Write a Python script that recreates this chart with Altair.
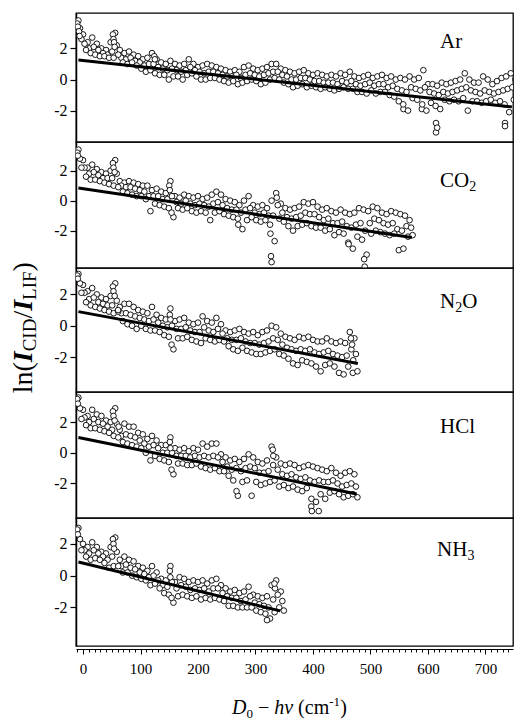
import altair as alt
import pandas as pd

FONT = "Liberation Serif"
PLOT_W = 437
X_DOMAIN = [-12.2, 747.9]
X_START = -8
X_STEP = 8
ROW_SHIFT = [0.0, 2.7, 5.3]

# ---------------- Ar ----------------
AR_HI = [3.8, 2.9, 2.4, 2.7, 2.3, 2.0, 1.9, 2.4, 3.0, 1.9, 1.7, 1.8, 1.6, 1.5, 1.3, 1.4,
         1.7, 1.3, 1.1, 1.0, 1.2, 1.0, 0.9, 1.0, 1.3, 1.0, 0.8, 0.9, 1.0, 0.9, 0.8, 0.7,
         0.6, 0.5, 0.6, 0.5, 0.8, 0.9, 0.7, 0.6, 0.7, 0.8, 1.0, 1.0, 0.7, 0.6, 0.5, 0.4,
         0.5, 0.6, 0.4, 0.3, 0.4, 0.3, 0.2, 0.3, 0.2, 0.4, 0.3, 0.5, 0.2, 0.1, 0.2, 0.3,
         0.1, 0.2, 0.3, 0.1, 0.2, 0.0, 0.1, 0.0, 0.2, 0.0, 0.1, 0.6, -0.3, -0.3, -0.4, -0.2,
         -0.3, -0.2, -0.1, 0.0, 0.4, 0.0, -0.2, -0.2, 0.2, 0.0, -0.3, -0.1, 0.1, 0.2, 0.4, 0.0]
AR_MID = [3.3, 2.3, 2.0, 2.1, 1.9, 1.7, 1.6, 1.8, 2.2, 1.4, 1.3, 1.4, 1.2, 1.1, 0.9, 1.0,
          1.0, 0.8, 0.7, 0.6, 0.7, 0.6, 0.5, 0.6, 0.8, 0.6, 0.5, 0.4, 0.5, 0.5, 0.4, 0.3,
          0.2, 0.2, 0.3, 0.1, 0.3, 0.4, 0.3, 0.2, 0.3, 0.4, 0.5, 0.5, 0.3, 0.2, 0.0, 0.0,
          0.1, 0.1, 0.0, -0.1, -0.1, -0.2, -0.2, -0.2, -0.3, -0.1, -0.2, -0.1, -0.3, -0.4, -0.3, -0.2,
          -0.4, -0.3, -0.3, -0.5, -0.4, -0.6, -0.7, -0.8, -0.5, -0.6, -0.7, -0.5, -0.8, -0.9, -1.0, -0.8,
          -0.9, -0.8, -0.7, -0.6, -0.5, -0.7, -0.8, -0.9, -0.7, -0.8, -0.9, -0.8, -0.7, -0.6, -0.5, -0.6]
AR_LO = [2.6, 1.9, 1.7, 1.6, 1.5, 1.5, 1.4, 1.4, 1.6, 1.1, 1.0, 1.1, 0.9, 0.7, 0.5, 0.6,
         0.4, 0.3, 0.3, 0.0, 0.2, 0.2, 0.0, 0.3, 0.4, 0.2, 0.0, 0.0, 0.1, 0.1, 0.0, -0.1,
         -0.2, -0.1, -0.3, -0.2, -0.1, 0.0, -0.1, -0.3, -0.2, 0.0, 0.1, 0.0, -0.2, -0.3, -0.5, -0.4,
         -0.3, -0.5, -0.4, -0.5, -0.6, -0.5, -0.6, -0.7, -0.6, -0.5, -0.6, -0.6, -0.8, -0.8, -0.9, -0.7,
         -0.9, -0.8, -0.8, -1.0, -1.1, -1.4, -1.9, -2.0, -1.2, -1.3, -1.9, -2.0, -1.5, -1.7, -1.9, -1.3,
         -1.4, -1.3, -1.4, -1.2, -2.0, -1.4, -1.4, -1.5, -1.4, -1.3, -1.5, -1.4, -1.6, -2.1, -1.3, -1.1]
AR_EXTRA = [(-10, 3.6), (-9, 3.4), (-7, 3.1), (-6, 2.8), (52, 2.9), (53, 2.6), (54, 2.4),
            (55, 2.1), (124, 1.5), (125, 1.3), (614, -2.8), (614, -3.4), (616, -3.1),
            (734, -2.8), (734, -3.0), (557, -1.6), (590, -1.6)]
AR_FIT = [(-8, 1.25), (746, -1.76)]

# ---------------- CO2 ----------------
CO2_HI = [3.4, 2.7, 2.2, 2.4, 2.1, 1.9, 1.8, 2.0, 2.7, 1.3, 1.2, 1.3, 1.2, 1.1, 1.0, 1.0,
          0.7, 0.8, 0.6, 0.5, 1.3, 0.3, 0.2, 0.4, 0.3, 0.2, 0.3, 0.1, 0.2, 0.4, 0.6, 0.4,
          0.1, 0.0, -0.1, -0.3, 0.0, 0.3, -0.3, -0.4, -0.3, -0.5, 0.0, 0.5, -0.2, -0.5, -0.6, -0.5,
          -0.4, -0.1, -0.2, -0.1, -0.4, -0.6, -0.5, -0.7, -0.8, -0.6, -0.8, -0.9, -0.8, -0.5, -0.6, -0.7,
          -0.4, -0.5, -0.8, -0.9, -0.7, -0.8, -0.9, -1.0, -1.3]
CO2_MID = [2.8, 2.2, 1.8, 1.9, 1.7, 1.5, 1.5, 1.5, 1.8, 1.0, 0.9, 0.9, 0.8, 0.7, 0.6, 0.3,
           0.3, 0.3, 0.1, 0.1, 0.3, -0.1, -0.2, 0.0, -0.2, -0.3, -0.2, -0.3, -0.4, -0.2, -0.1, -0.3,
           -0.5, -0.6, -0.6, -0.8, -0.6, -0.5, -0.8, -0.9, -0.8, -1.0, -1.0, -0.3, -0.8, -1.1, -1.2, -1.1,
           -1.0, -0.8, -0.9, -0.9, -1.1, -1.3, -1.2, -1.5, -1.5, -1.4, -1.7, -1.8, -1.6, -1.5, -2.0, -1.5,
           -1.2, -1.3, -1.5, -1.6, -1.5, -1.9, -2.0, -1.7, -1.8]
CO2_LO = [2.2, 1.6, 1.4, 1.4, 1.3, 1.2, 1.1, 1.0, 0.9, 0.6, 0.5, 0.4, 0.3, 0.3, 0.1, -0.7,
          -0.2, -0.3, -0.4, -0.5, -1.1, -0.5, -0.6, -0.5, -0.7, -0.8, -0.7, -0.8, -1.3, -0.8, -0.7, -0.9,
          -1.0, -1.1, -1.2, -1.9, -1.3, -1.1, -1.3, -1.4, -1.3, -1.6, -2.7, -1.2, -1.4, -1.7, -2.0, -1.7,
          -1.6, -1.5, -1.7, -1.8, -1.8, -2.0, -1.9, -2.3, -2.1, -2.2, -2.8, -3.2, -2.4, -2.6, -3.6, -2.2,
          -2.0, -2.1, -2.2, -2.3, -2.2, -3.3, -3.2, -2.4, -2.3]
CO2_EXTRA = [(-10, 3.2), (-9, 3.0), (52, 2.5), (53, 2.2), (55, 1.9), (150, 1.0), (151, 0.7),
             (154, -0.8), (326, -2.2), (327, -3.7), (328, -4.1), (489, -3.9), (490, -4.4),
             (462, -2.9), (337, 0.2), (270, -1.6)]
CO2_FIT = [(-8, 0.85), (572, -2.45)]

# ---------------- N2O ----------------
N2O_HI = [3.3, 2.6, 2.2, 2.4, 2.0, 1.8, 1.7, 1.9, 2.7, 1.2, 1.4, 1.4, 1.2, 1.0, 0.9, 0.8,
          1.2, 0.7, 0.5, 0.4, 1.1, 0.3, 0.4, 0.5, 0.2, 0.1, 0.2, 0.6, 0.3, 0.2, 0.5, 0.1,
          -0.3, -0.4, -0.3, -0.2, -0.4, -0.5, -0.4, -0.6, -0.4, -0.3, 0.0, -0.1, -0.5, -0.7, -0.8, -0.9,
          -0.7, -0.8, -0.7, -0.9, -1.0, -1.0, -0.8, -1.0, -1.1, -1.0, -1.1, -0.4, -0.8]
N2O_MID = [2.7, 2.1, 1.7, 1.8, 1.5, 1.4, 1.3, 1.3, 1.6, 0.8, 0.8, 0.7, 0.6, 0.5, 0.4, 0.3,
           0.4, 0.2, 0.0, -0.1, 0.0, -0.2, -0.2, -0.1, -0.3, -0.4, -0.4, -0.1, -0.3, -0.4, -0.2, -0.5,
           -0.8, -0.9, -0.9, -0.8, -1.0, -1.1, -1.1, -1.2, -1.1, -1.0, -0.8, -0.9, -1.2, -1.4, -1.5, -1.6,
           -1.5, -1.6, -1.5, -1.7, -1.8, -1.7, -1.6, -1.8, -1.9, -2.0, -1.9, -1.5, -1.8]
N2O_LO = [2.1, 1.5, 1.3, 1.2, 1.1, 1.0, 0.9, 0.8, 0.9, 0.3, 0.1, 0.0, -0.2, 0.0, -0.2, -0.3,
          -0.3, -0.4, -0.6, -0.7, -1.5, -0.8, -0.8, -0.7, -0.9, -1.0, -1.1, -0.8, -0.9, -1.0, -0.9, -1.0,
          -1.3, -1.5, -1.6, -1.4, -1.6, -1.7, -1.8, -1.8, -1.7, -1.6, -1.5, -1.8, -1.9, -2.1, -2.4, -2.5,
          -2.2, -2.3, -2.4, -2.6, -2.9, -2.5, -2.4, -2.6, -3.0, -3.1, -2.6, -3.0, -2.9]
N2O_EXTRA = [(-10, 3.2), (-9, 3.0), (52, 2.5), (53, 2.2), (55, 1.9), (151, 0.7), (152, 0.4),
             (154, -1.2), (466, -0.8), (468, -1.2), (470, -2.2), (61, 1.0)]
N2O_FIT = [(-8, 0.9), (478, -2.4)]

# ---------------- HCl ----------------
HCL_HI = [3.6, 2.8, 2.4, 2.8, 2.5, 2.4, 2.1, 2.0, 2.9, 1.5, 1.9, 1.7, 1.7, 1.3, 1.2, 0.9,
          1.1, 0.8, 0.5, 0.5, 1.0, 0.3, 0.2, 0.3, 0.1, 0.3, 0.2, 0.6, 0.4, 0.6, 0.6, -0.1,
          -0.3, -0.5, -0.4, -0.6, -0.4, -0.1, -0.3, -0.6, -0.7, -0.5, 0.4, -0.3, -0.7, -0.8, -0.7, -0.8,
          -1.0, -0.9, -0.8, -0.9, -1.0, -1.1, -1.2, -1.0, -1.3, -1.5, -1.3, -1.2, -1.4]
HCL_MID = [2.9, 2.3, 2.0, 2.2, 2.0, 1.9, 1.7, 1.5, 1.9, 1.1, 1.2, 1.1, 1.0, 0.8, 0.6, 0.4,
           0.5, 0.3, 0.0, 0.0, 0.0, -0.2, -0.2, -0.2, -0.3, -0.2, -0.3, -0.2, -0.3, -0.2, -0.3, -0.6,
           -0.9, -1.1, -1.0, -1.2, -1.0, -0.9, -1.0, -1.3, -1.3, -1.2, -0.8, -1.1, -1.4, -1.5, -1.4, -1.6,
           -1.7, -1.6, -1.8, -1.9, -1.8, -1.9, -1.9, -1.8, -2.0, -2.2, -2.1, -2.0, -2.2]
HCL_LO = [2.2, 1.8, 1.6, 1.6, 1.5, 1.4, 1.3, 1.1, 1.0, 0.7, 0.6, 0.5, 0.4, 0.3, 0.0, -0.5,
          -0.2, -0.4, -0.5, -0.6, -1.4, -0.7, -0.7, -0.8, -0.8, -0.7, -0.9, -1.0, -1.1, -1.0, -1.2, -1.2,
          -1.5, -1.8, -2.8, -1.9, -1.8, -2.8, -1.9, -2.1, -2.0, -1.9, -1.8, -2.2, -2.1, -2.3, -2.2, -2.4,
          -2.5, -2.3, -3.0, -3.2, -2.7, -3.0, -2.6, -2.5, -2.7, -2.9, -2.8, -2.7, -2.9]
HCL_EXTRA = [(-10, 3.5), (-9, 3.2), (52, 2.7), (53, 2.4), (55, 2.1), (151, 0.7), (152, 0.3),
             (154, -1.1), (397, -3.5), (398, -3.8), (410, -3.8), (267, -2.5), (330, 0.2),
             (331, -0.2), (62, 1.7)]
HCL_FIT = [(-8, 1.0), (476, -2.68)]

# ---------------- NH3 ----------------
NH3_HI = [3.0, 2.0, 1.8, 2.1, 1.8, 1.5, 1.4, 1.8, 2.4, 1.0, 1.2, 1.0, 0.9, 0.6, 0.5, 0.3,
          0.6, 0.2, -0.2, -0.3, 0.6, -0.4, -0.1, -0.2, -0.4, -0.3, -0.4, -0.3, -0.5, -0.3, -0.2, -0.6,
          -0.8, -1.0, -0.9, -1.1, -1.0, -0.7, -1.2, -1.3, -1.4, -1.3, -0.6, -0.3, -1.0]
NH3_MID = [2.3, 1.6, 1.4, 1.6, 1.4, 1.2, 1.0, 1.2, 1.5, 0.6, 0.7, 0.5, 0.4, 0.2, 0.1, -0.1,
           0.0, -0.3, -0.6, -0.7, -0.4, -0.8, -0.6, -0.7, -0.9, -0.8, -0.9, -0.8, -1.0, -0.8, -0.8, -1.1,
           -1.3, -1.4, -1.4, -1.6, -1.5, -1.3, -1.7, -1.8, -1.9, -2.0, -1.5, -1.2, -1.6]
NH3_LO = [1.6, 1.2, 1.0, 1.1, 1.0, 0.8, 0.5, 0.6, 0.6, 0.2, 0.2, 0.0, -0.1, -0.2, -0.3, -0.6,
          -0.5, -0.8, -1.1, -1.2, -1.7, -1.3, -1.2, -1.3, -1.4, -1.3, -1.5, -1.4, -1.5, -1.4, -1.5, -1.6,
          -1.9, -1.9, -2.0, -2.0, -2.0, -2.0, -2.2, -2.3, -2.4, -2.7, -2.3, -2.0, -2.2]
NH3_EXTRA = [(-10, 2.9), (-9, 2.6), (52, 2.3), (53, 2.0), (54, 1.7), (151, 0.3), (152, -0.1),
             (154, -1.4), (334, -0.8), (320, -2.8), (333, -0.5)]
NH3_FIT = [(-8, 0.86), (343, -2.22)]

Y_TICKS = [-2, 0, 2]
X_TICKS = list(range(-10, 741, 10))

PANELS = [
    dict(rows=(AR_HI, AR_MID, AR_LO), extra=AR_EXTRA, fit=AR_FIT, height=129,
         ydom=[-4.02, 4.28], label=[("Ar", 0, 0, 21)], lx=364, ly=35.3),
    dict(rows=(CO2_HI, CO2_MID, CO2_LO), extra=CO2_EXTRA, fit=CO2_FIT, height=126,
         ydom=[-4.49, 3.91], label=[("CO", 0, 0, 21), ("2", 29.2, 4, 14)], lx=364, ly=45.4),
    dict(rows=(N2O_HI, N2O_MID, N2O_LO), extra=N2O_EXTRA, fit=N2O_FIT, height=124,
         ydom=[-4.22, 3.68], label=[("N", 0, 0, 21), ("2", 15.2, 4, 14), ("O", 22.2, 0, 21)],
         lx=364, ly=39.7),
    dict(rows=(HCL_HI, HCL_MID, HCL_LO), extra=HCL_EXTRA, fit=HCL_FIT, height=126,
         ydom=[-4.25, 3.96], label=[("HCl", 0, 0, 21)], lx=364, ly=40.7),
    dict(rows=(NH3_HI, NH3_MID, NH3_LO), extra=NH3_EXTRA, fit=NH3_FIT, height=128,
         ydom=[-4.43, 3.63], label=[("NH", 0, 0, 21), ("3", 30.4, 4, 14)], lx=361, ly=38.3),
]


def txt(t, x, y, size, style="normal", weight="normal", angle=0):
    return alt.Chart(pd.DataFrame({"t": [t]})).mark_text(
        font=FONT, fontSize=size, fontStyle=style, fontWeight=weight, angle=angle,
        align="left", baseline="alphabetic", color="black",
    ).encode(x=alt.value(x), y=alt.value(y), text="t:N")


def make_panel(i, p):
    last = i == len(PANELS) - 1
    recs = []
    for k, arr in enumerate(p["rows"]):
        for j, v in enumerate(arr):
            recs.append({"x": X_START + j * X_STEP + ROW_SHIFT[k], "y": v})
    for x, y in p["extra"]:
        recs.append({"x": x, "y": y})
    df = pd.DataFrame(recs)
    (x0, y0), (x1, y1) = p["fit"]
    fit_df = pd.DataFrame({"x": [x0], "y": [y0], "x2": [x1], "y2": [y1]})

    xs = alt.Scale(domain=X_DOMAIN, nice=False, zero=False)
    ys = alt.Scale(domain=p["ydom"], nice=False, zero=False)
    if last:
        xaxis = alt.Axis(
            values=X_TICKS, title=None, grid=False, offset=3,
            labelExpr="datum.value % 100 === 0 && datum.value >= 0 ? datum.label : ''",
            tickSize={"condition": {"test": "datum.value % 100 === 0", "value": 5}, "value": 3},
            tickColor="black", tickWidth=1, domainColor="black", domainWidth=1,
            labelFont=FONT, labelFontSize=15, labelColor="black", labelPadding=7,
            labelOverlap=False, labelFlush=False,
        )
    else:
        xaxis = None
    yaxis = alt.Axis(
        values=Y_TICKS, title=None, grid=False,
        labelExpr="replace(datum.label, '\u2212', '-')",
        tickSize=6, tickColor="black", tickWidth=1.2,
        domainColor="black", domainWidth=1.5,
        labelFont=FONT, labelFontSize=16, labelColor="black", labelPadding=3,
    )

    pts = alt.Chart(df).mark_point(
        shape="circle", filled=True, fill="white", stroke="black",
        strokeWidth=0.9, size=32, opacity=1, clip=True,
    ).encode(
        x=alt.X("x:Q", scale=xs, axis=xaxis),
        y=alt.Y("y:Q", scale=ys, axis=yaxis),
    )
    rule = alt.Chart(fit_df).mark_rule(color="black", strokeWidth=3, clip=True).encode(
        x=alt.X("x:Q", scale=xs, axis=xaxis),
        y=alt.Y("y:Q", scale=ys, axis=yaxis),
        x2="x2:Q", y2="y2:Q",
    )
    layers = [pts, rule]
    for t, dx, dy, size in p["label"]:
        layers.append(txt(t, p["lx"] + dx, p["ly"] + dy, size))

    if i == 2:
        # y-axis title ln(I_CID / I_LIF), reading upward
        bx, sx = -44.5, -40
        layers += [
            txt("ln(", bx, 125.3, 28, angle=270),
            txt("I", bx, 94.2, 28, style="italic", weight="bold", angle=270),
            txt("CID", sx, 83.3, 19, angle=270),
            txt("/", bx, 50.6, 28, angle=270),
            txt("I", bx, 42.8, 28, style="italic", weight="bold", angle=270),
            txt("LIF", sx, 31.9, 19, angle=270),
            txt(")", bx, 3.4, 28, angle=270),
        ]
    if last:
        by = 196.0
        layers += [
            txt("D", 156, by, 20, style="italic"),
            txt("0", 170.4, by + 4, 13),
            txt("\u2212", 181.9, by, 20),
            txt("h\u03bd", 198.2, by, 20, style="italic"),
            txt("(cm", 222.1, by, 20),
            txt("-1", 253.2, by - 8, 13),
            txt(")", 264.2, by, 20),
        ]
    return alt.layer(*layers).properties(width=PLOT_W, height=p["height"])


chart = alt.vconcat(
    *[make_panel(i, p) for i, p in enumerate(PANELS)], spacing=0, bounds="flush"
).configure_view(
    stroke="black", strokeWidth=1.3
).properties(
    padding={"left": 0, "top": 4, "right": 0, "bottom": 0},
    background="white",
)

chart.save("out.html", embed_options={"renderer": "svg", "actions": False})
